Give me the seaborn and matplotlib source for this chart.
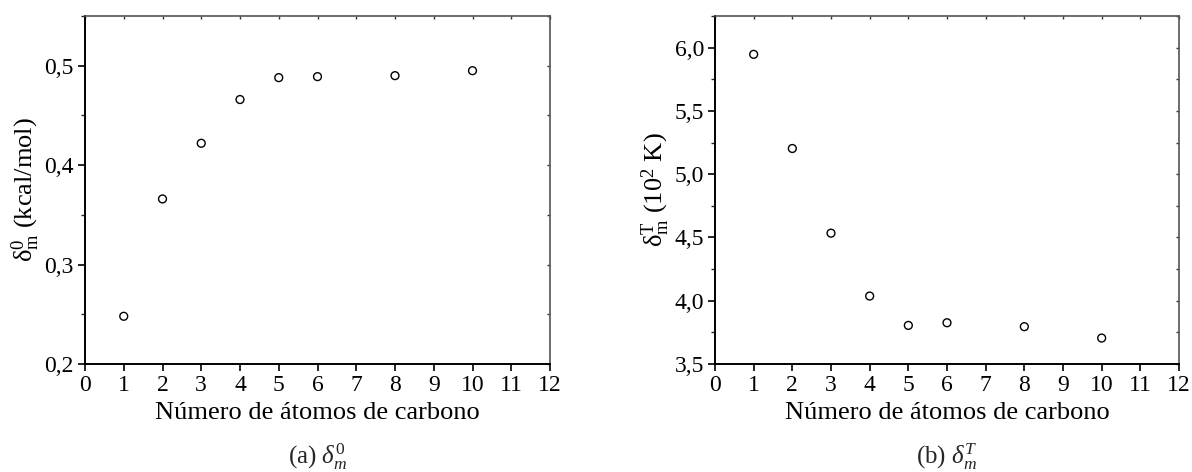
import matplotlib
matplotlib.use("Agg")
import matplotlib.pyplot as plt
import matplotlib.ticker as mticker
import seaborn as sns
import pandas as pd

# data
carbons = [1, 2, 3, 4, 5, 6, 8, 10]
delta0 = [0.248, 0.366, 0.422, 0.466, 0.488, 0.489, 0.490, 0.495]
deltaT = [5.947, 5.203, 4.534, 4.037, 3.805, 3.826, 3.795, 3.705]
x_ticks = list(range(0, 13))
xlabel = "Número de átomos de carbono"
ylabel_a = "δ$_{\\mathrm{m}}^{0}$ (kcal/mol)"
ylabel_b = "δ$_{\\mathrm{m}}^{\\mathrm{T}}$ (10$^{2}$ K)"
caption_a = "(a) $\\delta_m^0$"
caption_b = "(b) $\\delta_m^T$"

sns.set_theme(style="white")
plt.rcParams['font.family'] = ['Liberation Serif', 'DejaVu Serif']
plt.rcParams['mathtext.fontset'] = 'custom'
plt.rcParams['mathtext.rm'] = 'Liberation Serif'
plt.rcParams['mathtext.it'] = 'Liberation Serif:italic'
plt.rcParams['mathtext.bf'] = 'Liberation Serif:bold'

fig = plt.figure(figsize=(11.92, 4.72), dpi=100)
W, H = 1192, 472
top, bottom = 16, 364
ax1 = fig.add_axes([85 / W, 1 - bottom / H, (550 - 85) / W, (bottom - top) / H])
ax2 = fig.add_axes([715 / W, 1 - bottom / H, (1179 - 715) / W, (bottom - top) / H])

df = pd.DataFrame({"n": carbons, "d0": delta0, "dT": deltaT})

def comma_fmt(dec):
    return mticker.FuncFormatter(lambda v, p: f"{v:.{dec}f}".replace(".", ","))

for ax, col, ylim, major, minor, dec, ylab in [
    (ax1, "d0", (0.2, 0.55), 0.1, 0.05, 1, ylabel_a),
    (ax2, "dT", (3.5, 6.25), 0.5, 0.25, 1, ylabel_b),
]:
    sns.scatterplot(data=df, x="n", y=col, ax=ax, marker="o", s=32,
                    facecolor="none", edgecolor="black", linewidth=1.0, zorder=3)
    ax.set_xlim(0, 12)
    ax.set_ylim(*ylim)
    ax.set_xticks(x_ticks)
    ax.yaxis.set_major_locator(mticker.MultipleLocator(major))
    ax.yaxis.set_minor_locator(mticker.MultipleLocator(minor))
    ax.yaxis.set_major_formatter(comma_fmt(dec))
    ax.tick_params(axis="both", which="major", direction="out", length=5, width=1.2,
                   labelsize=17, colors="black", pad=3,
                   left=True, bottom=True, top=False, right=False)
    ax.tick_params(axis="y", which="minor", direction="out", length=3, width=1.0,
                   left=True, right=False)
    ax.set_xlabel(xlabel, fontsize=19, labelpad=4, color="black")
    ax.set_ylabel(ylab, fontsize=19, labelpad=2, color="black")
    for s in ["left", "bottom"]:
        ax.spines[s].set_color("black")
        ax.spines[s].set_linewidth(1.4)
    for s in ["top", "right"]:
        ax.spines[s].set_color("#555555")
        ax.spines[s].set_linewidth(1.2)
        ax.spines[s].set_visible(True)
    ax.grid(False)
    ax.set_facecolor("white")
    # small marks on top/right
    sec_top = ax.secondary_xaxis("top")
    sec_top.set_xticks(x_ticks)
    sec_top.tick_params(direction="in", length=2, width=1.0, labeltop=False, colors="#333333")
    sec_right = ax.secondary_yaxis("right")
    sec_right.yaxis.set_major_locator(mticker.MultipleLocator(minor))
    sec_right.tick_params(direction="in", length=2, width=1.0, labelright=False, colors="#333333")
    sec_right.spines["right"].set_visible(False)
    sec_top.spines["top"].set_visible(False)

fig.text((85 + 550) / 2 / W, 1 - 457 / H, caption_a, ha="center", va="center", fontsize=18)
fig.text((715 + 1179) / 2 / W, 1 - 457 / H, caption_b, ha="center", va="center", fontsize=18)

fig.savefig("out.png", dpi=100, facecolor="white")
